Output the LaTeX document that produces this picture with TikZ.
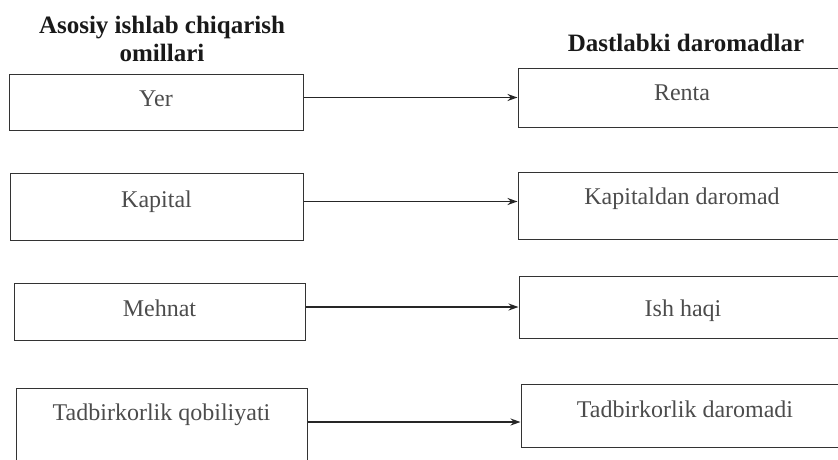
\documentclass[tikz,border=0pt]{standalone}
\usepackage{fontspec}
\setmainfont{Liberation Serif}
\usetikzlibrary{arrows.meta}
\begin{document}
\begin{tikzpicture}[x=1pt, y=-1pt,
    box/.style 2 args={draw=black!80, line width=1pt, text=black!70, inner xsep=0pt, inner ysep=0pt,
      text height=#1, text depth=#2, font=\fontsize{24}{28}\selectfont},
    head/.style={font=\fontsize{25}{28}\selectfont\bfseries, text=black!90, align=center},
    link/.style={-{Stealth[length=10pt,width=7pt]}, line width=1.6pt, black!85}]
      % Frame
      \clip (0,0) rectangle (838,459);
      % Headings
      \node[head] (omil) at (162,39) {Asosiy ishlab chiqarish\\omillari};
      \node[head] (dar) at (686,43) {Dastlabki daromadlar};
      % Factors
      \node[box={32pt}{24pt}, minimum width=294pt] (yer) at (156,102) {Yer};
      \node[box={34pt}{33pt}, minimum width=293pt] (kapital) at (156.5,206.5) {Kapital};
      \node[box={33pt}{24pt}, minimum width=291pt] (mehnat) at (159.5,311.5) {Mehnat};
      \node[box={32pt}{42pt}, minimum width=291pt] (tadbir) at (161.5,425) {Tadbirkorlik qobiliyati};
      % Incomes
      \node[box={32pt}{27pt}, minimum width=328pt] (renta) at (682,97.5) {Renta};
      \node[box={32pt}{35pt}, minimum width=328pt] (kapdar) at (682,205.5) {Kapitaldan daromad};
      \node[box={40pt}{22pt}, minimum width=328pt] (ish) at (683,307) {Ish haqi};
      \node[box={33pt}{30pt}, minimum width=328pt] (tdar) at (685,415.5) {Tadbirkorlik daromadi};

      \draw[link] (yer.east |- renta.west) -- (renta.west);
      \draw[link] ([yshift=5pt]kapital.east) -- ([yshift=5pt]kapital.east -| kapdar.west);
      \draw[link] (mehnat.east |- ish.west) -- (ish.west);
      \draw[link] ([yshift=3pt]tadbir.east) -- ([yshift=3pt]tadbir.east -| tdar.west);
    \end{tikzpicture}
\end{document}
